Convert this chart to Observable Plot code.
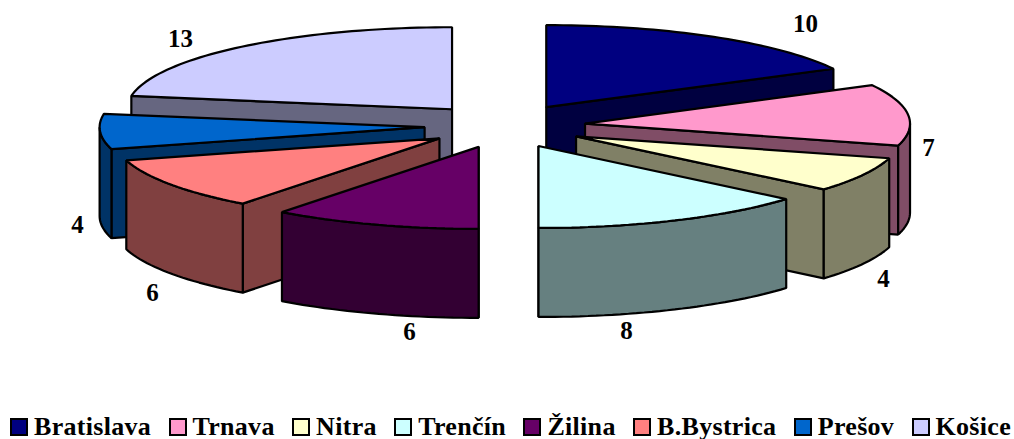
<!DOCTYPE html>
<html>
<head>
<meta charset="utf-8">
<script src="https://cdn.jsdelivr.net/npm/d3@7"></script>
<script src="https://cdn.jsdelivr.net/npm/@observablehq/plot@0.6"></script>
<style>
  html, body { margin: 0; padding: 0; background: #fff; overflow: hidden; }
  #chart svg { display: block; }
  #legend { display: flex; justify-content: space-between; height: 39px; padding: 15px 3px 0 10px; box-sizing: border-box;
            font: bold 26px "Liberation Serif", serif; letter-spacing: 0.3px; color: #000; line-height: 22px; }
  #legend .item { display: flex; align-items: center; white-space: nowrap; }
  #legend i { display: inline-block; width: 14px; height: 14px; border: 2px solid #000; margin-right: 6px; box-sizing: content-box; }
</style>
</head>
<body>
<div id="chart"></div>
<div id="legend"></div>
<script>
// Data
const regions = ["Bratislava", "Trnava", "Nitra", "Trenčín", "Žilina", "B.Bystrica", "Prešov", "Košice"];
const counts = [10, 7, 4, 8, 6, 6, 4, 13];
const topColors = ["#000080", "#FF99CC", "#FFFFCC", "#CCFFFF", "#660066", "#FF8080", "#0066CC", "#CCCCFF"];
const sideColors = ["#000040", "#804D66", "#808066", "#668080", "#330033", "#804040", "#003366", "#666680"];

// Projection of the tilted, exploded pie (chart units)
const cx = 504, cy = 125.5, rx = 325, ry = 82, depth = 89, explodeX = 81, explodeY = 22;
const nudgeX = [0, 0, 0, 0, 0, 2, 1, 0];
// Hand-placed label anchors, as in the reference
const labelX = [805, 928, 883, 626, 409, 152, 77, 180];
const labelY = [23, 147, 278, 330, 331, 292, 224, 38];

const total = d3.sum(counts);
const rad = d => d * Math.PI / 180;
let acc = 0;
const slices = regions.map((name, i) => {
  const a0 = acc / total * 360;
  acc += counts[i];
  const a1 = acc / total * 360;
  const mid = rad((a0 + a1) / 2);
  return {name, i, a0, a1,
    ax: cx + explodeX * Math.sin(mid) + nudgeX[i],
    ay: cy - explodeY * Math.cos(mid),
    order: -Math.cos(mid)};
});
const rim = (s, a, dy = 0) => ({
  x: s.ax + rx * Math.sin(rad(a)),
  y: s.ay - ry * Math.cos(rad(a)) + dy
});
const arcPts = (s, from, to, dy = 0) => {
  const n = Math.max(1, Math.ceil(Math.abs(to - from) / 1.5));
  return d3.range(n + 1).map(k => rim(s, from + (to - from) * k / n, dy));
};

const polys = [];
[...slices].sort((p, q) => p.order - q.order).forEach(s => {
  const apex = {x: s.ax, y: s.ay}, apexB = {x: s.ax, y: s.ay + depth};
  const side = sideColors[s.i], top = topColors[s.i];
  const wall = a => polys.push({color: side, pts: [apex, rim(s, a), rim(s, a, depth), apexB]});
  if (s.a1 <= 180) wall(s.a1);
  if (s.a0 >= 180) wall(s.a0);
  const f0 = Math.max(s.a0, 90), f1 = Math.min(s.a1, 270);
  if (f1 > f0) polys.push({color: side, pts: [...arcPts(s, f0, f1), ...arcPts(s, f1, f0, depth)]});
  polys.push({color: top, pts: [apex, ...arcPts(s, s.a0, s.a1)]});
});

const labels = regions.map((r, i) => ({v: String(counts[i]), x: labelX[i], y: labelY[i]}));

const chart = Plot.plot({
  width: 1014, height: 400,
  margin: 0,
  x: {domain: [0, 1014], range: [0, 1014], axis: null},
  y: {domain: [0, 400], range: [0, 400], axis: null},
  style: {background: "#fff"},
  marks: [
    ...polys.map(p => Plot.line(p.pts, {
      x: "x", y: "y", fill: p.color, stroke: "#000", strokeWidth: 2.2,
      strokeLinejoin: "miter", curve: "linear-closed"
    })),
    Plot.text(labels, {
      x: "x", y: "y", text: "v", fontSize: 25, fontWeight: "bold",
      fontFamily: "Liberation Serif", fill: "#000"
    })
  ]
});
document.getElementById("chart").append(chart);

const legend = document.getElementById("legend");
regions.forEach((r, i) => {
  const item = document.createElement("span");
  item.className = "item";
  const sw = document.createElement("i");
  sw.style.background = topColors[i];
  item.append(sw, document.createTextNode(r));
  legend.append(item);
});
</script>
</body>
</html>
